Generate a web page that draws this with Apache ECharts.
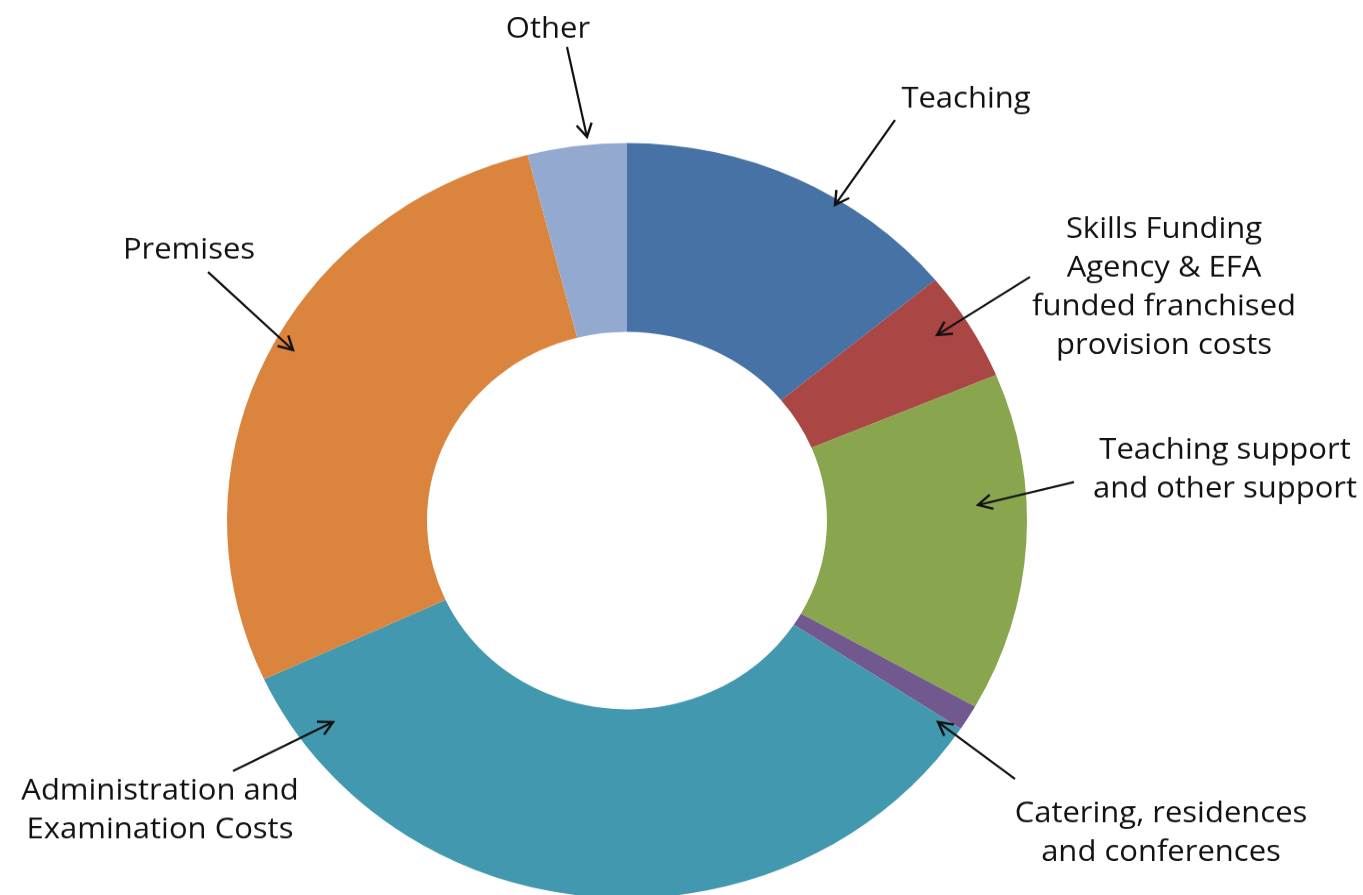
<!DOCTYPE html>
<html>
<head>
<meta charset="utf-8">
<script src="https://cdn.jsdelivr.net/npm/echarts@6/dist/echarts.min.js"></script>
<style>
    html, body { margin: 0; padding: 0; background: #fff; overflow: hidden; }
    /* the source picture is a little squashed vertically, so the ring is an ellipse */
    #main { width: 1363px; height: 948px; transform: scaleY(0.944); transform-origin: 0 0; }
</style>
</head>
<body>
<div id="main"></div>
<script type="text/javascript">

    var SY = 0.944;

    // data (share of expenditure, %)
    var categories = [
        'Teaching',
        'Skills Funding\nAgency & EFA\nfunded franchised\nprovision costs',
        'Teaching support\nand other support',
        'Catering, residences\nand conferences',
        'Administration and\nExamination Costs',
        'Premises',
        'Other'
    ];
    var values = [14.0, 4.7, 14.5, 1.1, 33.8, 27.9, 4.0];
    var colors = ['#4672A6', '#AA4643', '#89A54E', '#71588F', '#4198AF', '#DB843D', '#93A9CF'];

    // label centres, picture pixels
    var labelPos = [
        [966, 99], [1164, 288], [1225, 470], [1161, 833], [160, 811], [189, 250], [548, 29]
    ];

    // arrows: tail -> tip, picture pixels
    var arrows = [
        [[567, 47], [587, 137]],
        [[895, 120], [835, 205]],
        [[1030, 277], [937, 335]],
        [[1074, 482], [978, 505]],
        [[1015, 779], [938, 722]],
        [[233, 771], [333, 722]],
        [[208, 272], [293, 350]]
    ];

    function arrowGraphics() {
        var out = [];
        arrows.forEach(function (a) {
            var x1 = a[0][0], y1 = a[0][1] / SY, x2 = a[1][0], y2 = a[1][1] / SY;
            var ang = Math.atan2(y2 - y1, x2 - x1);
            var L = 16, w = 0.5;
            var h1 = [x2 - L * Math.cos(ang - w), y2 - L * Math.sin(ang - w)];
            var h2 = [x2 - L * Math.cos(ang + w), y2 - L * Math.sin(ang + w)];
            out.push({
                type: 'polyline', silent: true, z: 100,
                shape: {points: [[x1, y1], [x2, y2]]},
                style: {stroke: '#111', lineWidth: 2.2, fill: null}
            });
            out.push({
                type: 'polyline', silent: true, z: 100,
                shape: {points: [h1, [x2, y2], h2]},
                style: {stroke: '#111', lineWidth: 2.4, fill: null}
            });
        });
        return out;
    }

    var pieData = categories.map(function (c, i) {
        return {name: c, value: values[i], itemStyle: {color: colors[i]}};
    });

    var option = {
        animation: false,
        graphic: arrowGraphics(),
        series: [{
            type: 'pie',
            center: [627, 520.5 / SY],
            radius: [200, 400],
            startAngle: 90,
            clockwise: true,
            avoidLabelOverlap: false,
            emphasis: {disabled: true},
            itemStyle: {borderWidth: 0},
            label: {
                show: true,
                formatter: '{b}',
                fontFamily: 'Open Sans',
                fontSize: 31,
                lineHeight: 41,
                color: '#111',
                align: 'center'
            },
            labelLine: {show: false},
            labelLayout: function (params) {
                var p = labelPos[params.dataIndex];
                return {x: p[0], y: p[1] / SY, align: 'center', verticalAlign: 'middle'};
            },
            data: pieData
        }]
    };

    var myChart = echarts.init(document.getElementById('main'));
    myChart.setOption(option);
</script>
</body>
</html>
